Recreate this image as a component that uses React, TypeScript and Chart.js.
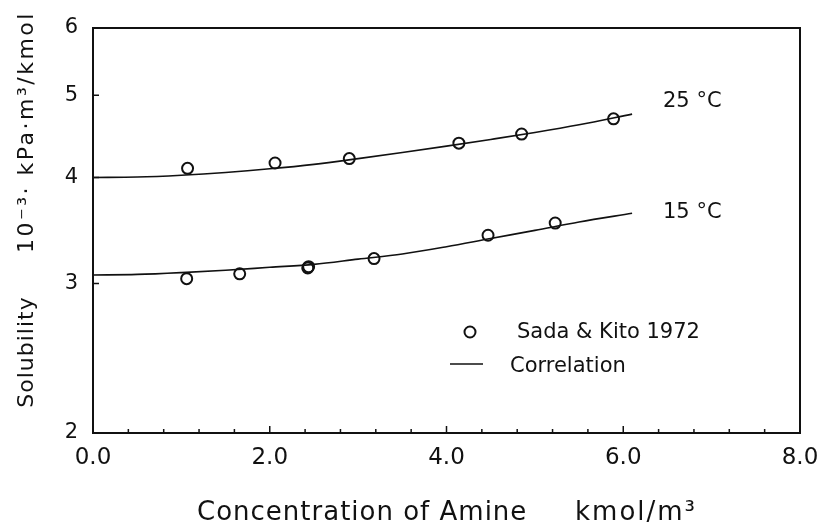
import React, { useEffect, useRef } from "react";
import { Chart, registerables } from "chart.js";

Chart.register(...registerables);

// ---- data ----
const xTickValues = [0, 2, 4, 6, 8];
const yTickValues = [2, 3, 4, 5, 6];

const curveX = [0, 0.5, 1.0, 1.5, 2.0, 2.5, 3.0, 3.5, 4.0, 4.5, 5.0, 5.5, 6.1];
const curve25 = [4.0, 4.005, 4.025, 4.055, 4.095, 4.145, 4.21, 4.28, 4.355, 4.435, 4.52, 4.615, 4.75];
const curve15 = [3.07, 3.075, 3.09, 3.11, 3.135, 3.16, 3.205, 3.25, 3.315, 3.39, 3.465, 3.545, 3.63];

const pts25X = [1.07, 2.06, 2.9, 4.14, 4.85, 5.89];
const pts25Y = [4.1, 4.16, 4.21, 4.39, 4.5, 4.69];
const pts15X = [1.06, 1.66, 2.43, 2.44, 3.18, 4.47, 5.23];
const pts15Y = [3.04, 3.08, 3.13, 3.14, 3.21, 3.42, 3.535];

const yTitleA = "Solubility";
const yTitleB = "10\u207B\u00B3\u00B7 kPa\u00B7m\u00B3/kmol";
const xTitleA = "Concentration of Amine";
const xTitleB = "kmol/m\u00B3";
const label25 = "25 \u00B0C";
const label15 = "15 \u00B0C";
const legendPoints = "Sada & Kito 1972";
const legendLine = "Correlation";

const FONT = "'DejaVu Sans', sans-serif";
const INK = "#111";

const zip = (xs: number[], ys: number[]) => xs.map((x, i) => ({ x, y: ys[i] }));

const decorPlugin = {
  id: "decor",
  afterDraw(chart: any) {
    const ctx = chart.ctx as CanvasRenderingContext2D;
    const { left, right, top, bottom } = chart.chartArea;
    const xs = chart.scales.x;
    const ys = chart.scales.y;
    ctx.save();
    ctx.strokeStyle = INK;
    ctx.fillStyle = INK;
    // frame
    ctx.lineWidth = 2;
    ctx.strokeRect(left, top, right - left, bottom - top);
    // inward ticks
    ctx.lineWidth = 1.5;
    ctx.beginPath();
    for (let i = 0; i <= 20; i++) {
      const v = i * 0.4;
      const px = xs.getPixelForValue(v);
      const len = i % 5 === 0 ? 7 : 4;
      ctx.moveTo(px, bottom);
      ctx.lineTo(px, bottom - len);
    }
    yTickValues.forEach((v) => {
      const py = ys.getPixelForValue(v);
      ctx.moveTo(left, py);
      ctx.lineTo(left + 6, py);
    });
    ctx.stroke();

    // axis titles
    (ctx as any).letterSpacing = "1px";
    ctx.font = `22px ${FONT}`;
    ctx.textAlign = "center";
    ctx.textBaseline = "middle";
    ctx.save();
    ctx.translate(27, 352);
    ctx.rotate(-Math.PI / 2);
    ctx.fillText(yTitleA, 0, 0);
    ctx.restore();
    (ctx as any).letterSpacing = "2.5px";
    ctx.save();
    ctx.translate(27, 132);
    ctx.rotate(-Math.PI / 2);
    ctx.fillText(yTitleB, 0, 0);
    ctx.restore();

    (ctx as any).letterSpacing = "1px";
    ctx.font = `26px ${FONT}`;
    ctx.textAlign = "left";
    ctx.textBaseline = "alphabetic";
    ctx.fillText(xTitleA, 197, 520);
    (ctx as any).letterSpacing = "2px";
    ctx.fillText(xTitleB, 575, 520);

    // curve labels
    (ctx as any).letterSpacing = "0px";
    ctx.font = `21px ${FONT}`;
    ctx.fillText(label25, 663, 107);
    ctx.fillText(label15, 663, 218);

    // legend
    ctx.fillText(legendPoints, 517, 338);
    ctx.fillText(legendLine, 510, 372);
    ctx.lineWidth = 2;
    ctx.beginPath();
    ctx.arc(470, 332, 5.5, 0, Math.PI * 2);
    ctx.stroke();
    ctx.lineWidth = 1.6;
    ctx.beginPath();
    ctx.moveTo(450, 364);
    ctx.lineTo(483, 364);
    ctx.stroke();
    ctx.restore();
  },
};

export default function App() {
  const ref = useRef<HTMLCanvasElement | null>(null);
  useEffect(() => {
    if (!ref.current) return;
    const lineDs = (data: number[]) => ({
      data: zip(curveX, data),
      showLine: true,
      borderColor: INK,
      borderWidth: 1.6,
      pointRadius: 0,
      cubicInterpolationMode: "monotone" as const,
      fill: false,
    });
    const ptDs = (xsArr: number[], ysArr: number[]) => ({
      data: zip(xsArr, ysArr),
      showLine: false,
      pointStyle: "circle",
      pointRadius: 5.5,
      pointBorderWidth: 2,
      pointBorderColor: INK,
      pointBackgroundColor: "rgba(0,0,0,0)",
    });
    const chart = new Chart(ref.current, {
      type: "scatter",
      data: {
        datasets: [
          lineDs(curve25) as any,
          lineDs(curve15) as any,
          ptDs(pts25X, pts25Y) as any,
          ptDs(pts15X, pts15Y) as any,
        ],
      },
      options: {
        animation: false,
        responsive: false,
        devicePixelRatio: 1,
        layout: { padding: { top: 28, right: 23, left: 0, bottom: 0 } },
        plugins: { legend: { display: false }, tooltip: { enabled: false } },
        scales: {
          x: {
            type: "linear",
            min: 0,
            max: 8,
            afterBuildTicks: (scale: any) => {
              scale.ticks = xTickValues.map((v) => ({ value: v }));
            },
            afterFit: (scale: any) => {
              scale.height = 98;
              scale.paddingLeft = 0;
              scale.paddingRight = 0;
            },
            ticks: {
              color: INK,
              font: { family: FONT, size: 23 },
              padding: 11,
              maxRotation: 0,
              callback: (v: any) => Number(v).toFixed(1),
            },
            grid: { display: false, drawTicks: false },
            border: { display: false },
          },
          y: {
            type: "logarithmic",
            min: 2,
            max: 6,
            afterBuildTicks: (scale: any) => {
              scale.ticks = yTickValues.map((v) => ({ value: v }));
            },
            afterFit: (scale: any) => {
              scale.width = 93;
              scale.paddingTop = 0;
              scale.paddingBottom = 0;
            },
            ticks: {
              color: INK,
              font: { family: FONT, size: 21 },
              padding: 15,
              callback: (v: any) => String(v),
            },
            grid: { display: false, drawTicks: false },
            border: { display: false },
          },
        },
      },
      plugins: [decorPlugin],
    });
    return () => chart.destroy();
  }, []);
  return (
    <div style={{ position: "fixed", left: 0, top: 0, width: 823, height: 531, background: "#fff" }}>
      <canvas ref={ref} width={823} height={531} />
    </div>
  );
}
